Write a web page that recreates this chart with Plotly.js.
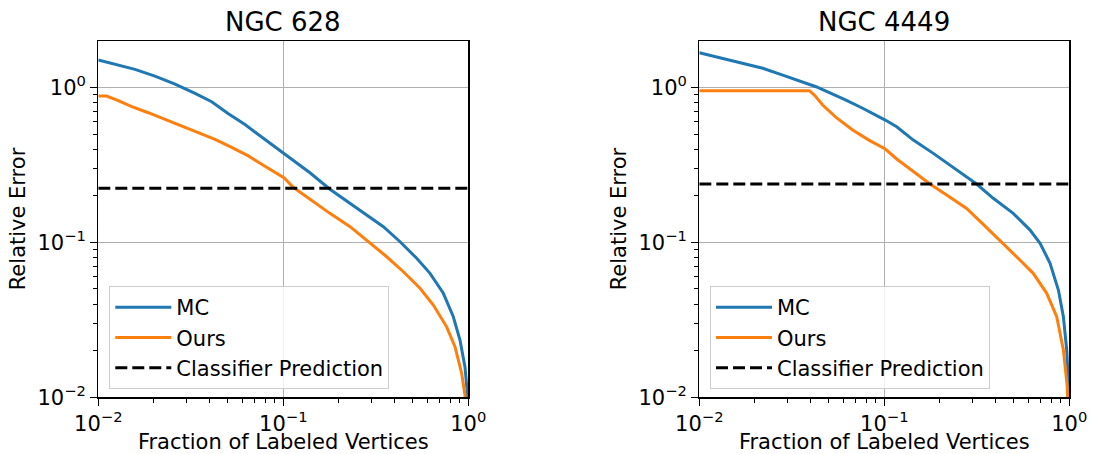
<!DOCTYPE html>
<html><head><meta charset="utf-8">
<script src="https://cdn.plot.ly/plotly-3.0.1.min.js"></script>
<style>html,body{margin:0;padding:0;background:#fff}#chart{width:1094px;height:454px}</style>
</head><body><div id="chart"></div>
<script>
// ---- data ----
const panelTitles = ["NGC 628", "NGC 4449"];
const seriesNames = ["MC", "Ours", "Classifier Prediction"];
const tickVals = [0.01, 0.1, 1];
const tickText = ["10<sup>\u22122</sup>", "10<sup>\u22121</sup>", "10<sup>0</sup>"];
const minorTickVals = [0.02, 0.03, 0.04, 0.05, 0.06, 0.07, 0.08, 0.09, 0.2, 0.3, 0.4, 0.5, 0.6, 0.7, 0.8, 0.9];

// NGC 628
const mc628X = [0.0100, 0.01230, 0.01578, 0.02023, 0.02600, 0.03334, 0.04102, 0.05047, 0.06209, 0.07638, 0.09016, 0.1012, 0.1132, 0.1393, 0.1786, 0.2203, 0.2825, 0.3475, 0.4276, 0.5260, 0.6209, 0.7328, 0.8299, 0.9016, 0.9594, 0.9886, 1.0];
const mc628Y = [1.500, 1.413, 1.306, 1.183, 1.050, 0.914, 0.807, 0.676, 0.575, 0.478, 0.412, 0.375, 0.335, 0.281, 0.220, 0.1854, 0.1500, 0.1262, 0.1009, 0.0789, 0.0631, 0.0469, 0.0331, 0.0234, 0.0157, 0.0106, 0.006];
const ours628X = [0.0100, 0.01109, 0.01282, 0.01517, 0.01862, 0.02296, 0.02825, 0.03475, 0.04276, 0.05260, 0.06471, 0.07962, 0.1012, 0.1132, 0.1393, 0.1786, 0.2296, 0.2944, 0.3622, 0.4457, 0.5483, 0.6471, 0.7638, 0.8472, 0.9204, 0.9594, 0.975];
const ours628Y = [0.879, 0.879, 0.820, 0.750, 0.686, 0.622, 0.562, 0.509, 0.462, 0.410, 0.361, 0.310, 0.260, 0.2265, 0.1892, 0.1538, 0.1262, 0.0993, 0.0807, 0.0646, 0.0505, 0.0394, 0.0285, 0.0212, 0.0143, 0.01035, 0.006];
const clf628 = 0.223;

// NGC 4449
const mc4449X = [0.0100, 0.01230, 0.01578, 0.02203, 0.02825, 0.03622, 0.04276, 0.05047, 0.06209, 0.07638, 0.09016, 0.1012, 0.1167, 0.1435, 0.1841, 0.2265, 0.2673, 0.3155, 0.3882, 0.4977, 0.6138, 0.6950, 0.7870, 0.8730, 0.9290, 0.9683, 0.9931, 1.0];
const mc4449Y = [1.671, 1.574, 1.462, 1.327, 1.199, 1.086, 1.009, 0.923, 0.828, 0.733, 0.662, 0.615, 0.557, 0.457, 0.375, 0.3155, 0.2716, 0.2377, 0.1923, 0.1538, 0.1199, 0.0986, 0.0733, 0.0492, 0.0331, 0.0202, 0.0117, 0.006];
const ours4449X = [0.0100, 0.03936, 0.04188, 0.04645, 0.05483, 0.06745, 0.08299, 0.1012, 0.1167, 0.1435, 0.1766, 0.2173, 0.2786, 0.3428, 0.4395, 0.5408, 0.6383, 0.7551, 0.8551, 0.9290, 0.9750, 0.985];
const ours4449Y = [0.951, 0.951, 0.891, 0.769, 0.640, 0.531, 0.455, 0.400, 0.345, 0.285, 0.2377, 0.2018, 0.1656, 0.1306, 0.0986, 0.0769, 0.0631, 0.0469, 0.0331, 0.0202, 0.0117, 0.006];
const clf4449 = 0.238;

const xSpan = [0.01, 1];

// ---- styling ----
const BLUE = "#1f77b4", ORANGE = "#ff7f0e";
const FONT = "DejaVu Sans";
const W = 1094, H = 454;

function mk(x, y, name, color, xa, ya, leg, dash, grp) {
  return {x: x, y: y, name: name, type: "scatter", mode: "lines",
    xaxis: xa, yaxis: ya, legend: leg, legendgroup: grp,
    line: {color: color, width: 3, dash: dash || "solid"}};
}

const traces = [
  mk(mc628X, mc628Y, seriesNames[0], BLUE, "x", "y", "legend", null, "a"),
  mk(ours628X, ours628Y, seriesNames[1], ORANGE, "x", "y", "legend", null, "b"),
  mk(xSpan, [clf628, clf628], seriesNames[2], "black", "x", "y", "legend", "12px,5px", "c"),
  mk(mc4449X, mc4449Y, seriesNames[0], BLUE, "x2", "y2", "legend2", null, "a"),
  mk(ours4449X, ours4449Y, seriesNames[1], ORANGE, "x2", "y2", "legend2", null, "b"),
  mk(xSpan, [clf4449, clf4449], seriesNames[2], "black", "x2", "y2", "legend2", "12px,5px", "c"),
];

const yBot = 1 - 397.3 / H, yTop = 1 - 40.7 / H;
const common = {
  type: "log", tickvals: tickVals, ticktext: tickText,
  tickfont: {family: FONT, size: 21, color: "black"},
  ticks: "outside", ticklen: 7, tickwidth: 1.2, tickcolor: "black",
  showline: true, linecolor: "black", linewidth: 1.2, mirror: true,
  showgrid: true, gridcolor: "#b0b0b0", gridwidth: 1, zeroline: false,
  minor: {tickmode: "array", tickvals: minorTickVals, ticks: "outside", ticklen: 4,
          tickcolor: "black", tickwidth: 1, showgrid: false},
  automargin: false
};
function xax(d0, d1, anchor) {
  return Object.assign({}, common, {range: [-2, 0], domain: [d0 / W, d1 / W], anchor: anchor,
    title: {text: "Fraction of Labeled Vertices", font: {family: FONT, size: 21, color: "black"}, standoff: 4}});
}
function yax(anchor) {
  return Object.assign({}, common, {range: [-2, Math.log10(2.0)], domain: [yBot, yTop], anchor: anchor,
    title: {text: "Relative Error", font: {family: FONT, size: 21, color: "black"}, standoff: 6}});
}

function legend(xpx) {
  return {x: xpx / W, y: 1 - 286 / H, xanchor: "left", yanchor: "top",
    bgcolor: "rgba(255,255,255,0.8)", bordercolor: "#cccccc", borderwidth: 1,
    font: {family: FONT, size: 21, color: "black"}, itemwidth: 56,
    tracegroupgap: 8, traceorder: "normal"};
}

const layout = {
  width: W, height: H, margin: {l: 0, r: 0, t: 0, b: 0},
  paper_bgcolor: "white", plot_bgcolor: "white",
  font: {family: FONT, color: "black"},
  showlegend: true,
  xaxis: xax(98.3, 468.3, "y"),
  yaxis: yax("x"),
  xaxis2: xax(699.3, 1069.3, "y2"),
  yaxis2: yax("x2"),
  legend: legend(109.3),
  legend2: legend(710),
  annotations: [
    {text: panelTitles[0], x: 283.3 / W, y: 1 - 22 / H, xref: "paper", yref: "paper", showarrow: false,
     font: {family: FONT, size: 26, color: "black"}, xanchor: "center", yanchor: "middle"},
    {text: panelTitles[1], x: 884.3 / W, y: 1 - 22 / H, xref: "paper", yref: "paper", showarrow: false,
     font: {family: FONT, size: 26, color: "black"}, xanchor: "center", yanchor: "middle"},
  ],
};

Plotly.newPlot("chart", traces, layout, {displayModeBar: false, staticPlot: true});
</script></body></html>
